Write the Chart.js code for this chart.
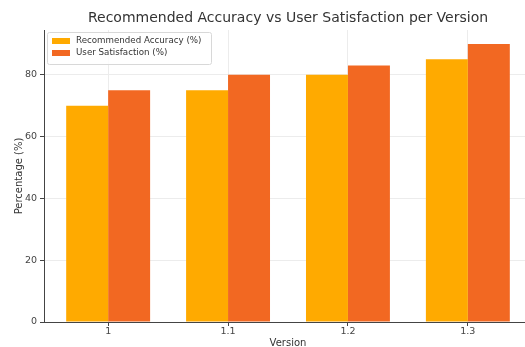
<!DOCTYPE html>
<html>
<head>
<meta charset="utf-8">
<script src="https://cdn.jsdelivr.net/npm/chart.js@4.4.6/dist/chart.umd.js"></script>
<style>
  html, body { margin: 0; padding: 0; background: #fff; overflow: hidden; }
  #wrap { width: 525px; height: 347px; overflow: hidden; position: relative; }
  #box { width: 540px; height: 347px; position: absolute; left: 0; top: 0; }
</style>
</head>
<body>
<div id="wrap"><div id="box"><canvas id="myChart"></canvas></div></div>
<script>
// data
const versions = ['1', '1.1', '1.2', '1.3'];
const accuracy = [70, 75, 80, 85];
const satisfaction = [75, 80, 83, 90];
const yTicks = [0, 20, 40, 60, 80];

const FONT = "'DejaVu Sans', sans-serif";
const colors = ['#FFAA00', '#F26822'];

// legend box inside the plot, upper left (like matplotlib)
const boxLegend = {
    id: 'boxLegend',
    afterDatasetsDraw(chart) {
        const ctx = chart.ctx;
        const area = chart.chartArea;
        const x = area.left + 3, y = area.top + 2;
        const w = 164, h = 32;
        ctx.save();
        ctx.fillStyle = 'rgba(255,255,255,0.85)';
        ctx.strokeStyle = '#d8d8d8';
        ctx.lineWidth = 1;
        ctx.beginPath();
        ctx.roundRect(x + 0.5, y + 0.5, w, h, 2);
        ctx.fill();
        ctx.stroke();
        ctx.font = '8.7px ' + FONT;
        ctx.textBaseline = 'middle';
        chart.data.datasets.forEach((ds, i) => {
            const cy = y + 9 + i * 12;
            ctx.fillStyle = ds.backgroundColor;
            ctx.fillRect(x + 5, cy - 3, 18, 6);
            ctx.fillStyle = '#333';
            ctx.fillText(ds.label, x + 29, cy);
        });
        ctx.restore();
    }
};

const ctx = document.getElementById('myChart').getContext('2d');
const myChart = new Chart(ctx, {
    type: 'bar',
    data: {
        datasets: [{
            label: 'Recommended Accuracy (%)',
            data: accuracy.map((v, i) => ({x: i, y: v})),
            backgroundColor: colors[0],
            categoryPercentage: 0.7,
            barPercentage: 1.0
        }, {
            label: 'User Satisfaction (%)',
            data: satisfaction.map((v, i) => ({x: i, y: v})),
            backgroundColor: colors[1],
            categoryPercentage: 0.7,
            barPercentage: 1.0
        }]
    },
    plugins: [boxLegend],
    options: {
        responsive: true,
        maintainAspectRatio: false,
        animation: false,
        layout: { padding: { left: 0, right: 8, top: 0, bottom: 0 } },
        plugins: {
            legend: { display: false },
            tooltip: { enabled: false },
            title: {
                display: true,
                fullSize: false,
                text: 'Recommended Accuracy vs User Satisfaction per Version',
                color: '#333',
                font: { family: FONT, size: 14, weight: 'normal', lineHeight: 1.2 },
                padding: { top: 9.5, bottom: 3.7 }
            }
        },
        scales: {
            x: {
                type: 'linear',
                offset: false,
                min: -0.535,
                max: 3.535,
                afterBuildTicks(scale) {
                    scale.ticks = versions.map((v, i) => ({value: i}));
                },
                afterFit(scale) { scale.height = 25; },
                ticks: {
                    color: '#444',
                    font: { family: FONT, size: 9.5 },
                    padding: 0,
                    maxRotation: 0,
                    callback: (val) => versions[val]
                },
                grid: { offset: false, color: '#ececec', tickColor: '#444', tickLength: 4 },
                border: { color: '#444', width: 1 },
                title: {
                    display: true,
                    text: 'Version',
                    color: '#333',
                    font: { family: FONT, size: 10 },
                    padding: { top: 0, bottom: -2 }
                }
            },
            y: {
                min: 0,
                max: 94.5,
                afterBuildTicks(scale) {
                    scale.ticks = yTicks.map(v => ({value: v}));
                },
                afterFit(scale) { scale.width = 44; },
                ticks: {
                    color: '#444',
                    font: { family: FONT, size: 9.5 },
                    padding: 3
                },
                grid: { color: '#ececec', tickColor: '#444', tickLength: 4 },
                border: { color: '#444', width: 1 },
                title: {
                    display: true,
                    text: 'Percentage (%)',
                    color: '#333',
                    font: { family: FONT, size: 10 },
                    padding: { top: 13, bottom: 0 }
                }
            }
        }
    }
});
</script>
</body>
</html>
